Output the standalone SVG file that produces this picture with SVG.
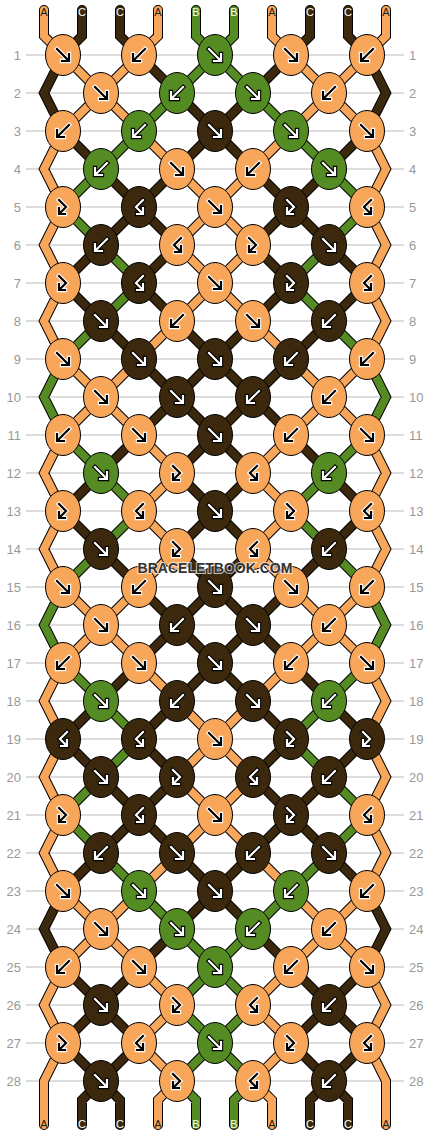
<svg xmlns="http://www.w3.org/2000/svg" width="430" height="1136" viewBox="0 0 430 1136">
<style>
.o{stroke:#000;stroke-width:10}
.sA{stroke:#F7A65A;stroke-width:8}
.sB{stroke:#558B23;stroke-width:8}
.sC{stroke:#3C290D;stroke-width:8}
.A{fill:#F7A65A;stroke:#fff;color:#000}
.B{fill:#558B23;stroke:#000;color:#fff}
.C{fill:#3C290D;stroke:#000;color:#fff}
.rl{stroke:#bbb;stroke-width:1;fill:none}
.n{font-family:"Liberation Sans",Arial,sans-serif;font-size:13px;fill:#999}
.nl{text-anchor:end}
.t{font-family:"Liberation Sans",Arial,sans-serif;font-size:11px;text-anchor:middle}
.td{fill:#222}
.tw{fill:#fff}
.wm{font-family:"Liberation Sans",Arial,sans-serif;font-size:14px;font-weight:bold;text-anchor:middle;fill:#333;stroke:#fff;stroke-width:2;stroke-opacity:.7;paint-order:stroke}
</style>
<defs>
<ellipse id="e" rx="17.5" ry="20.5" stroke="#000" stroke-width="1"/>
<g id="f" fill="none" stroke-linecap="square"><path d="M-6-6L5 5M6-1V6H-1" stroke-width="4.4"/><path d="M-6-6L5 5M6-1V6H-1" stroke="currentColor" stroke-width="2.2"/></g>
<g id="b" fill="none" stroke-linecap="square"><path d="M6-6L-5 5M-6-1V6H1" stroke-width="4.4"/><path d="M6-6L-5 5M-6-1V6H1" stroke="currentColor" stroke-width="2.2"/></g>
<g id="fb" fill="none" stroke-linecap="square"><path d="M-4-7L3 0L-3 6M-4 1V7H2" stroke-width="4.4"/><path d="M-4-7L3 0L-3 6M-4 1V7H2" stroke="currentColor" stroke-width="2.2"/></g>
<g id="bf" fill="none" stroke-linecap="square"><path d="M4-7L-3 0L3 6M4 1V7H-2" stroke-width="4.4"/><path d="M4-7L-3 0L3 6M4 1V7H-2" stroke="currentColor" stroke-width="2.2"/></g>
<path id="pA" fill="none" stroke-linecap="round" stroke-linejoin="miter" d="M63 55l38 38M139 55l-38 38M291 55l38 38M367 55l-38 38M101 93l-38 38M101 93l38 38M329 93l-38 38M329 93l38 38M139 131l38 38M291 131l-38 38M177 169l38 38M253 169l-38 38M215 207l-38 38M215 207l38 38M177 245l38 38M253 245l-38 38M215 283l-38 38M215 283l38 38M177 321l-38 38M253 321l38 38M63 359l38 38M139 359l-38 38M291 359l38 38M367 359l-38 38M101 397l-38 38M101 397l38 38M329 397l-38 38M329 397l38 38M139 435l38 38M291 435l-38 38M177 473l-38 38M253 473l38 38M139 511l38 38M291 511l-38 38M177 549l-38 38M253 549l38 38M63 587l38 38M139 587l-38 38M291 587l38 38M367 587l-38 38M101 625l-38 38M101 625l38 38M329 625l-38 38M329 625l38 38M139 663l38 38M291 663l-38 38M177 701l38 38M253 701l-38 38M215 739l-38 38M215 739l38 38M177 777l38 38M253 777l-38 38M215 815l-38 38M215 815l38 38M177 853l-38 38M253 853l38 38M63 891l38 38M139 891l-38 38M291 891l38 38M367 891l-38 38M101 929l-38 38M101 929l38 38M329 929l-38 38M329 929l38 38M139 967l38 38M291 967l-38 38M177 1005l-38 38M253 1005l38 38M139 1043l38 38M291 1043l-38 38M63 131L44 169L63 207M367 131L386 169L367 207M63 207L44 245L63 283M367 207L386 245L367 283M63 283L44 321L63 359M367 283L386 321L367 359M63 435L44 473L63 511M367 435L386 473L367 511M63 511L44 549L63 587M367 511L386 549L367 587M63 663L44 701L63 739M367 663L386 701L367 739M63 739L44 777L63 815M367 739L386 777L367 815M63 815L44 853L63 891M367 815L386 853L367 891M63 967L44 1005L63 1043M367 967L386 1005L367 1043M63 1043L44 1081V1125M367 1043L386 1081V1125M44 10V36L63 55M158 10V36L139 55M272 10V36L291 55M386 10V36L367 55M177 1081L158 1100V1125M253 1081L272 1100V1125"/>
<path id="pB" fill="none" stroke-linecap="round" stroke-linejoin="miter" d="M215 55l-38 38M215 55l38 38M177 93l-38 38M253 93l38 38M139 131l-38 38M291 131l38 38M101 169l-38 38M329 169l38 38M63 207l38 38M367 207l-38 38M101 245l38 38M329 245l-38 38M139 283l-38 38M291 283l38 38M101 321l-38 38M329 321l38 38M63 435l38 38M367 435l-38 38M101 473l38 38M329 473l-38 38M139 511l-38 38M291 511l38 38M101 549l-38 38M329 549l38 38M63 663l38 38M367 663l-38 38M101 701l38 38M329 701l-38 38M139 739l-38 38M291 739l38 38M101 777l-38 38M329 777l38 38M63 815l38 38M367 815l-38 38M101 853l38 38M329 853l-38 38M139 891l38 38M291 891l-38 38M177 929l38 38M253 929l-38 38M215 967l-38 38M215 967l38 38M177 1005l38 38M253 1005l-38 38M215 1043l-38 38M215 1043l38 38M63 359L44 397L63 435M367 359L386 397L367 435M63 587L44 625L63 663M367 587L386 625L367 663M196 10V36L215 55M234 10V36L215 55M177 1081L196 1100V1125M253 1081L234 1100V1125"/>
<path id="pC" fill="none" stroke-linecap="round" stroke-linejoin="miter" d="M139 55l38 38M291 55l-38 38M177 93l38 38M253 93l-38 38M63 131l38 38M215 131l-38 38M215 131l38 38M367 131l-38 38M101 169l38 38M177 169l-38 38M253 169l38 38M329 169l-38 38M139 207l-38 38M139 207l38 38M291 207l-38 38M291 207l38 38M101 245l-38 38M177 245l-38 38M253 245l38 38M329 245l38 38M63 283l38 38M139 283l38 38M291 283l-38 38M367 283l-38 38M101 321l38 38M177 321l38 38M253 321l-38 38M329 321l-38 38M139 359l38 38M215 359l-38 38M215 359l38 38M291 359l-38 38M177 397l-38 38M177 397l38 38M253 397l-38 38M253 397l38 38M139 435l-38 38M215 435l-38 38M215 435l38 38M291 435l38 38M101 473l-38 38M177 473l38 38M253 473l-38 38M329 473l38 38M63 511l38 38M215 511l-38 38M215 511l38 38M367 511l-38 38M101 549l38 38M177 549l38 38M253 549l-38 38M329 549l-38 38M139 587l38 38M215 587l-38 38M215 587l38 38M291 587l-38 38M177 625l-38 38M177 625l38 38M253 625l-38 38M253 625l38 38M139 663l-38 38M215 663l-38 38M215 663l38 38M291 663l38 38M101 701l-38 38M177 701l-38 38M253 701l38 38M329 701l38 38M63 739l38 38M139 739l38 38M291 739l-38 38M367 739l-38 38M101 777l38 38M177 777l-38 38M253 777l38 38M329 777l-38 38M139 815l-38 38M139 815l38 38M291 815l-38 38M291 815l38 38M101 853l-38 38M177 853l38 38M253 853l-38 38M329 853l38 38M215 891l-38 38M215 891l38 38M177 929l-38 38M253 929l38 38M63 967l38 38M139 967l-38 38M291 967l38 38M367 967l-38 38M101 1005l-38 38M101 1005l38 38M329 1005l-38 38M329 1005l38 38M63 1043l38 38M139 1043l-38 38M291 1043l38 38M367 1043l-38 38M63 55L44 93L63 131M367 55L386 93L367 131M63 891L44 929L63 967M367 891L386 929L367 967M82 10V36L63 55M120 10V36L139 55M310 10V36L291 55M348 10V36L367 55M101 1081L82 1100V1125M101 1081L120 1100V1125M329 1081L310 1100V1125M329 1081L348 1100V1125"/>
</defs>
<rect width="430" height="1136" fill="#fff"/>
<g id="grid">
<path class="rl" d="M26 55H404M26 93H404M26 131H404M26 169H404M26 207H404M26 245H404M26 283H404M26 321H404M26 359H404M26 397H404M26 435H404M26 473H404M26 511H404M26 549H404M26 587H404M26 625H404M26 663H404M26 701H404M26 739H404M26 777H404M26 815H404M26 853H404M26 891H404M26 929H404M26 967H404M26 1005H404M26 1043H404M26 1081H404"/>
<g class="n nl">
<text x="21" y="60">1</text><text x="21" y="98">2</text><text x="21" y="136">3</text><text x="21" y="174">4</text><text x="21" y="212">5</text><text x="21" y="250">6</text><text x="21" y="288">7</text><text x="21" y="326">8</text><text x="21" y="364">9</text><text x="21" y="402">10</text><text x="21" y="440">11</text><text x="21" y="478">12</text><text x="21" y="516">13</text><text x="21" y="554">14</text><text x="21" y="592">15</text><text x="21" y="630">16</text><text x="21" y="668">17</text><text x="21" y="706">18</text><text x="21" y="744">19</text><text x="21" y="782">20</text><text x="21" y="820">21</text><text x="21" y="858">22</text><text x="21" y="896">23</text><text x="21" y="934">24</text><text x="21" y="972">25</text><text x="21" y="1010">26</text><text x="21" y="1048">27</text><text x="21" y="1086">28</text>
</g>
<g class="n">
<text x="409" y="60">1</text><text x="409" y="98">2</text><text x="409" y="136">3</text><text x="409" y="174">4</text><text x="409" y="212">5</text><text x="409" y="250">6</text><text x="409" y="288">7</text><text x="409" y="326">8</text><text x="409" y="364">9</text><text x="409" y="402">10</text><text x="409" y="440">11</text><text x="409" y="478">12</text><text x="409" y="516">13</text><text x="409" y="554">14</text><text x="409" y="592">15</text><text x="409" y="630">16</text><text x="409" y="668">17</text><text x="409" y="706">18</text><text x="409" y="744">19</text><text x="409" y="782">20</text><text x="409" y="820">21</text><text x="409" y="858">22</text><text x="409" y="896">23</text><text x="409" y="934">24</text><text x="409" y="972">25</text><text x="409" y="1010">26</text><text x="409" y="1048">27</text><text x="409" y="1086">28</text>
</g>
</g>
<g id="connectors">
<use href="#pA" class="o"/><use href="#pB" class="o"/><use href="#pC" class="o"/>
<use href="#pA" class="sA"/><use href="#pB" class="sB"/><use href="#pC" class="sC"/>
</g>
<g id="labels" class="t">
<text x="44" y="16" class="td">A</text><text x="82" y="16" class="tw">C</text><text x="120" y="16" class="tw">C</text><text x="158" y="16" class="td">A</text><text x="196" y="16" class="tw">B</text><text x="234" y="16" class="tw">B</text><text x="272" y="16" class="td">A</text><text x="310" y="16" class="tw">C</text><text x="348" y="16" class="tw">C</text><text x="386" y="16" class="td">A</text>
<text x="44" y="1128" class="td">A</text><text x="82" y="1128" class="tw">C</text><text x="120" y="1128" class="tw">C</text><text x="158" y="1128" class="td">A</text><text x="196" y="1128" class="tw">B</text><text x="234" y="1128" class="tw">B</text><text x="272" y="1128" class="td">A</text><text x="310" y="1128" class="tw">C</text><text x="348" y="1128" class="tw">C</text><text x="386" y="1128" class="td">A</text>
</g>
<g id="knots">
<g id="r1k1" class="A" transform="translate(63 55)"><use href="#e"/><use href="#f"/></g>
<g id="r1k2" class="A" transform="translate(139 55)"><use href="#e"/><use href="#b"/></g>
<g id="r1k3" class="B" transform="translate(215 55)"><use href="#e"/><use href="#f"/></g>
<g id="r1k4" class="A" transform="translate(291 55)"><use href="#e"/><use href="#f"/></g>
<g id="r1k5" class="A" transform="translate(367 55)"><use href="#e"/><use href="#b"/></g>
<g id="r2k1" class="A" transform="translate(101 93)"><use href="#e"/><use href="#f"/></g>
<g id="r2k2" class="B" transform="translate(177 93)"><use href="#e"/><use href="#b"/></g>
<g id="r2k3" class="B" transform="translate(253 93)"><use href="#e"/><use href="#f"/></g>
<g id="r2k4" class="A" transform="translate(329 93)"><use href="#e"/><use href="#b"/></g>
<g id="r3k1" class="A" transform="translate(63 131)"><use href="#e"/><use href="#b"/></g>
<g id="r3k2" class="B" transform="translate(139 131)"><use href="#e"/><use href="#b"/></g>
<g id="r3k3" class="C" transform="translate(215 131)"><use href="#e"/><use href="#f"/></g>
<g id="r3k4" class="B" transform="translate(291 131)"><use href="#e"/><use href="#f"/></g>
<g id="r3k5" class="A" transform="translate(367 131)"><use href="#e"/><use href="#f"/></g>
<g id="r4k1" class="B" transform="translate(101 169)"><use href="#e"/><use href="#b"/></g>
<g id="r4k2" class="A" transform="translate(177 169)"><use href="#e"/><use href="#f"/></g>
<g id="r4k3" class="A" transform="translate(253 169)"><use href="#e"/><use href="#b"/></g>
<g id="r4k4" class="B" transform="translate(329 169)"><use href="#e"/><use href="#f"/></g>
<g id="r5k1" class="A" transform="translate(63 207)"><use href="#e"/><use href="#fb"/></g>
<g id="r5k2" class="C" transform="translate(139 207)"><use href="#e"/><use href="#bf"/></g>
<g id="r5k3" class="A" transform="translate(215 207)"><use href="#e"/><use href="#f"/></g>
<g id="r5k4" class="C" transform="translate(291 207)"><use href="#e"/><use href="#fb"/></g>
<g id="r5k5" class="A" transform="translate(367 207)"><use href="#e"/><use href="#bf"/></g>
<g id="r6k1" class="C" transform="translate(101 245)"><use href="#e"/><use href="#b"/></g>
<g id="r6k2" class="A" transform="translate(177 245)"><use href="#e"/><use href="#bf"/></g>
<g id="r6k3" class="A" transform="translate(253 245)"><use href="#e"/><use href="#fb"/></g>
<g id="r6k4" class="C" transform="translate(329 245)"><use href="#e"/><use href="#f"/></g>
<g id="r7k1" class="A" transform="translate(63 283)"><use href="#e"/><use href="#fb"/></g>
<g id="r7k2" class="C" transform="translate(139 283)"><use href="#e"/><use href="#bf"/></g>
<g id="r7k3" class="A" transform="translate(215 283)"><use href="#e"/><use href="#f"/></g>
<g id="r7k4" class="C" transform="translate(291 283)"><use href="#e"/><use href="#fb"/></g>
<g id="r7k5" class="A" transform="translate(367 283)"><use href="#e"/><use href="#bf"/></g>
<g id="r8k1" class="C" transform="translate(101 321)"><use href="#e"/><use href="#f"/></g>
<g id="r8k2" class="A" transform="translate(177 321)"><use href="#e"/><use href="#b"/></g>
<g id="r8k3" class="A" transform="translate(253 321)"><use href="#e"/><use href="#f"/></g>
<g id="r8k4" class="C" transform="translate(329 321)"><use href="#e"/><use href="#b"/></g>
<g id="r9k1" class="A" transform="translate(63 359)"><use href="#e"/><use href="#f"/></g>
<g id="r9k2" class="C" transform="translate(139 359)"><use href="#e"/><use href="#f"/></g>
<g id="r9k3" class="C" transform="translate(215 359)"><use href="#e"/><use href="#f"/></g>
<g id="r9k4" class="C" transform="translate(291 359)"><use href="#e"/><use href="#b"/></g>
<g id="r9k5" class="A" transform="translate(367 359)"><use href="#e"/><use href="#b"/></g>
<g id="r10k1" class="A" transform="translate(101 397)"><use href="#e"/><use href="#f"/></g>
<g id="r10k2" class="C" transform="translate(177 397)"><use href="#e"/><use href="#f"/></g>
<g id="r10k3" class="C" transform="translate(253 397)"><use href="#e"/><use href="#b"/></g>
<g id="r10k4" class="A" transform="translate(329 397)"><use href="#e"/><use href="#b"/></g>
<g id="r11k1" class="A" transform="translate(63 435)"><use href="#e"/><use href="#b"/></g>
<g id="r11k2" class="A" transform="translate(139 435)"><use href="#e"/><use href="#f"/></g>
<g id="r11k3" class="C" transform="translate(215 435)"><use href="#e"/><use href="#f"/></g>
<g id="r11k4" class="A" transform="translate(291 435)"><use href="#e"/><use href="#b"/></g>
<g id="r11k5" class="A" transform="translate(367 435)"><use href="#e"/><use href="#f"/></g>
<g id="r12k1" class="B" transform="translate(101 473)"><use href="#e"/><use href="#f"/></g>
<g id="r12k2" class="A" transform="translate(177 473)"><use href="#e"/><use href="#fb"/></g>
<g id="r12k3" class="A" transform="translate(253 473)"><use href="#e"/><use href="#bf"/></g>
<g id="r12k4" class="B" transform="translate(329 473)"><use href="#e"/><use href="#b"/></g>
<g id="r13k1" class="A" transform="translate(63 511)"><use href="#e"/><use href="#fb"/></g>
<g id="r13k2" class="A" transform="translate(139 511)"><use href="#e"/><use href="#bf"/></g>
<g id="r13k3" class="C" transform="translate(215 511)"><use href="#e"/><use href="#f"/></g>
<g id="r13k4" class="A" transform="translate(291 511)"><use href="#e"/><use href="#fb"/></g>
<g id="r13k5" class="A" transform="translate(367 511)"><use href="#e"/><use href="#bf"/></g>
<g id="r14k1" class="C" transform="translate(101 549)"><use href="#e"/><use href="#f"/></g>
<g id="r14k2" class="A" transform="translate(177 549)"><use href="#e"/><use href="#fb"/></g>
<g id="r14k3" class="A" transform="translate(253 549)"><use href="#e"/><use href="#bf"/></g>
<g id="r14k4" class="C" transform="translate(329 549)"><use href="#e"/><use href="#b"/></g>
<g id="r15k1" class="A" transform="translate(63 587)"><use href="#e"/><use href="#f"/></g>
<g id="r15k2" class="A" transform="translate(139 587)"><use href="#e"/><use href="#b"/></g>
<g id="r15k3" class="C" transform="translate(215 587)"><use href="#e"/><use href="#f"/></g>
<g id="r15k4" class="A" transform="translate(291 587)"><use href="#e"/><use href="#f"/></g>
<g id="r15k5" class="A" transform="translate(367 587)"><use href="#e"/><use href="#b"/></g>
<g id="r16k1" class="A" transform="translate(101 625)"><use href="#e"/><use href="#f"/></g>
<g id="r16k2" class="C" transform="translate(177 625)"><use href="#e"/><use href="#b"/></g>
<g id="r16k3" class="C" transform="translate(253 625)"><use href="#e"/><use href="#f"/></g>
<g id="r16k4" class="A" transform="translate(329 625)"><use href="#e"/><use href="#b"/></g>
<g id="r17k1" class="A" transform="translate(63 663)"><use href="#e"/><use href="#b"/></g>
<g id="r17k2" class="A" transform="translate(139 663)"><use href="#e"/><use href="#f"/></g>
<g id="r17k3" class="C" transform="translate(215 663)"><use href="#e"/><use href="#f"/></g>
<g id="r17k4" class="A" transform="translate(291 663)"><use href="#e"/><use href="#b"/></g>
<g id="r17k5" class="A" transform="translate(367 663)"><use href="#e"/><use href="#f"/></g>
<g id="r18k1" class="B" transform="translate(101 701)"><use href="#e"/><use href="#f"/></g>
<g id="r18k2" class="C" transform="translate(177 701)"><use href="#e"/><use href="#b"/></g>
<g id="r18k3" class="C" transform="translate(253 701)"><use href="#e"/><use href="#f"/></g>
<g id="r18k4" class="B" transform="translate(329 701)"><use href="#e"/><use href="#b"/></g>
<g id="r19k1" class="C" transform="translate(63 739)"><use href="#e"/><use href="#bf"/></g>
<g id="r19k2" class="C" transform="translate(139 739)"><use href="#e"/><use href="#bf"/></g>
<g id="r19k3" class="A" transform="translate(215 739)"><use href="#e"/><use href="#f"/></g>
<g id="r19k4" class="C" transform="translate(291 739)"><use href="#e"/><use href="#fb"/></g>
<g id="r19k5" class="C" transform="translate(367 739)"><use href="#e"/><use href="#fb"/></g>
<g id="r20k1" class="C" transform="translate(101 777)"><use href="#e"/><use href="#f"/></g>
<g id="r20k2" class="C" transform="translate(177 777)"><use href="#e"/><use href="#fb"/></g>
<g id="r20k3" class="C" transform="translate(253 777)"><use href="#e"/><use href="#bf"/></g>
<g id="r20k4" class="C" transform="translate(329 777)"><use href="#e"/><use href="#b"/></g>
<g id="r21k1" class="A" transform="translate(63 815)"><use href="#e"/><use href="#fb"/></g>
<g id="r21k2" class="C" transform="translate(139 815)"><use href="#e"/><use href="#bf"/></g>
<g id="r21k3" class="A" transform="translate(215 815)"><use href="#e"/><use href="#f"/></g>
<g id="r21k4" class="C" transform="translate(291 815)"><use href="#e"/><use href="#fb"/></g>
<g id="r21k5" class="A" transform="translate(367 815)"><use href="#e"/><use href="#bf"/></g>
<g id="r22k1" class="C" transform="translate(101 853)"><use href="#e"/><use href="#b"/></g>
<g id="r22k2" class="C" transform="translate(177 853)"><use href="#e"/><use href="#f"/></g>
<g id="r22k3" class="C" transform="translate(253 853)"><use href="#e"/><use href="#b"/></g>
<g id="r22k4" class="C" transform="translate(329 853)"><use href="#e"/><use href="#f"/></g>
<g id="r23k1" class="A" transform="translate(63 891)"><use href="#e"/><use href="#f"/></g>
<g id="r23k2" class="B" transform="translate(139 891)"><use href="#e"/><use href="#f"/></g>
<g id="r23k3" class="C" transform="translate(215 891)"><use href="#e"/><use href="#f"/></g>
<g id="r23k4" class="B" transform="translate(291 891)"><use href="#e"/><use href="#b"/></g>
<g id="r23k5" class="A" transform="translate(367 891)"><use href="#e"/><use href="#b"/></g>
<g id="r24k1" class="A" transform="translate(101 929)"><use href="#e"/><use href="#f"/></g>
<g id="r24k2" class="B" transform="translate(177 929)"><use href="#e"/><use href="#f"/></g>
<g id="r24k3" class="B" transform="translate(253 929)"><use href="#e"/><use href="#b"/></g>
<g id="r24k4" class="A" transform="translate(329 929)"><use href="#e"/><use href="#b"/></g>
<g id="r25k1" class="A" transform="translate(63 967)"><use href="#e"/><use href="#b"/></g>
<g id="r25k2" class="A" transform="translate(139 967)"><use href="#e"/><use href="#f"/></g>
<g id="r25k3" class="B" transform="translate(215 967)"><use href="#e"/><use href="#f"/></g>
<g id="r25k4" class="A" transform="translate(291 967)"><use href="#e"/><use href="#b"/></g>
<g id="r25k5" class="A" transform="translate(367 967)"><use href="#e"/><use href="#f"/></g>
<g id="r26k1" class="C" transform="translate(101 1005)"><use href="#e"/><use href="#f"/></g>
<g id="r26k2" class="A" transform="translate(177 1005)"><use href="#e"/><use href="#fb"/></g>
<g id="r26k3" class="A" transform="translate(253 1005)"><use href="#e"/><use href="#bf"/></g>
<g id="r26k4" class="C" transform="translate(329 1005)"><use href="#e"/><use href="#b"/></g>
<g id="r27k1" class="A" transform="translate(63 1043)"><use href="#e"/><use href="#fb"/></g>
<g id="r27k2" class="A" transform="translate(139 1043)"><use href="#e"/><use href="#bf"/></g>
<g id="r27k3" class="B" transform="translate(215 1043)"><use href="#e"/><use href="#f"/></g>
<g id="r27k4" class="A" transform="translate(291 1043)"><use href="#e"/><use href="#fb"/></g>
<g id="r27k5" class="A" transform="translate(367 1043)"><use href="#e"/><use href="#bf"/></g>
<g id="r28k1" class="C" transform="translate(101 1081)"><use href="#e"/><use href="#f"/></g>
<g id="r28k2" class="A" transform="translate(177 1081)"><use href="#e"/><use href="#fb"/></g>
<g id="r28k3" class="A" transform="translate(253 1081)"><use href="#e"/><use href="#bf"/></g>
<g id="r28k4" class="C" transform="translate(329 1081)"><use href="#e"/><use href="#b"/></g>
</g>
<text class="wm" x="215" y="572.5">BRACELETBOOK.COM</text>
</svg>
